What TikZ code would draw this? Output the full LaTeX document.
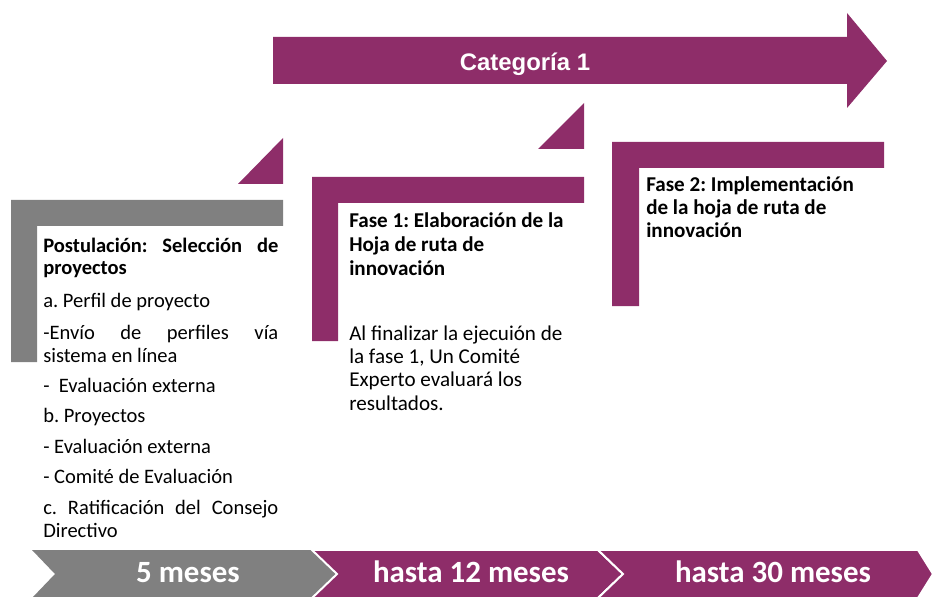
\documentclass[tikz,border=0pt]{standalone}
\usepackage{fontspec}
\setmainfont{Carlito}
\newfontfamily\arialfont{Liberation Sans}
\usetikzlibrary{calc}
\definecolor{fasemag}{HTML}{8E2D69}
\definecolor{fasegris}{HTML}{808080}
\newcommand{\natsp}{\spaceskip=0pt\relax\xspaceskip=0pt\relax}
\newcommand{\jline}[1]{\makebox[5.875cm][s]{\natsp#1}}
\frenchspacing

\begin{document}
\begin{tikzpicture}[x=0.025cm, y=-0.025cm,
		magbloque/.style={fill=fasemag},
		grisbloque/.style={fill=fasegris},
		chevron/.style={draw=white, line width=1.4pt, line join=miter},
		txtcaja/.style={anchor=base west, inner sep=0pt, align=left, text=black},
		etiqueta/.style={anchor=base, inner sep=0pt, text=white, font=\bfseries\fontsize{22}{26}\selectfont}]
		%%%%% START %%%%%
		
		\useasboundingbox (0, 0) rectangle (934, 597);
		
		% flecha superior
		\fill[magbloque] (273, 37) -- (847, 37) -- (847, 13) -- (887, 61) -- (847, 108) -- (847, 84) -- (273, 84) -- cycle;
		\node[anchor=base, inner sep=0pt, text=white, font=\arialfont\bfseries\fontsize{17}{20}\selectfont] (cat) at (525, 71) {Categoría 1};
		
		% escalones
		\fill[magbloque] (238, 184) -- (283, 138) -- (283, 184) -- cycle;
		\fill[magbloque] (538, 149) -- (584, 103) -- (584, 149) -- cycle;
		
		\fill[grisbloque] (11, 200) -- (283, 200) -- (283, 226) -- (37, 226) -- (37, 362) -- (11, 362) -- cycle;
		\fill[magbloque] (312, 177) -- (584, 177) -- (584, 203) -- (338, 203) -- (338, 341) -- (312, 341) -- cycle;
		\fill[magbloque] (612, 142) -- (884, 142) -- (884, 168) -- (639, 168) -- (639, 306) -- (612, 306) -- cycle;
		
		% textos
		\node[txtcaja, text width=5.875cm, font=\fontsize{14.6}{16}\selectfont] (postul) at (43, 252) {\natsp
			\jline{\bfseries Postulación: Selección de}\\
			\textbf{proyectos}\\[7.2pt]
			a. Perfil de proyecto\\[7.2pt]
			\jline{-Envío de perfiles vía}\\
			sistema en línea\\[5.4pt]
			-~~Evaluación externa\\[5.4pt]
			b. Proyectos\\[6pt]
			- Evaluación externa\\[5.4pt]
			- Comité de Evaluación\\[6.4pt]
			\jline{c. Ratificación del Consejo}\\
			Directivo};
		
		\node[txtcaja, text width=5.75cm, font=\bfseries\fontsize{15}{16.9}\selectfont] (fase1tit) at (349, 228) {\natsp
			Fase 1: Elaboración de la\\ Hoja de ruta de\\ innovación};
		\node[txtcaja, text width=5.75cm, font=\fontsize{15}{16.7}\selectfont] (fase1txt) at (349, 340) {\natsp
			Al finalizar la ejecuión de\\ la fase 1, Un Comité\\ Experto evaluará los\\ resultados.};
		
		\node[txtcaja, text width=5.8cm, font=\bfseries\fontsize{15}{16.1}\selectfont] (fase2tit) at (646, 192) {\natsp
			Fase 2: Implementación\\ de la hoja de ruta de\\ innovación};
		
		% linea de tiempo
		\fill[grisbloque] (32, 550) -- (312, 550) -- (337, 574) -- (312, 598) -- (32, 598) -- (55, 574) -- cycle;
		\filldraw[magbloque, chevron] (312, 550) -- (598, 550) -- (623, 574) -- (598, 598) -- (312, 598) -- (337, 574) -- cycle;
		\filldraw[magbloque, chevron] (598, 550) -- (918, 550) -- (933, 574) -- (918, 598) -- (598, 598) -- (623, 574) -- cycle;
		
		\node[etiqueta] (mes5) at (188, 582) {5 meses};
		\node[etiqueta] (mes12) at (471, 582) {hasta 12 meses};
		\node[etiqueta] (mes30) at (773, 582) {hasta 30 meses};
		
		%%%%% END %%%%%
	\end{tikzpicture}
\end{document}
